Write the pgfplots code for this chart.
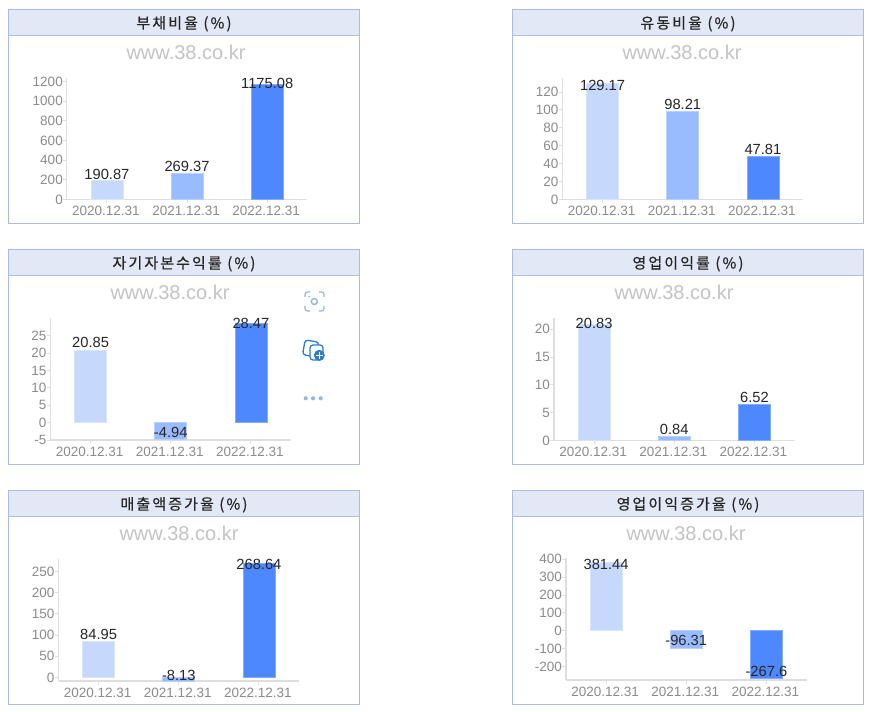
\documentclass[border=0pt]{standalone}
\usepackage{fontspec}
\usepackage{pgfplots}
\pgfplotsset{compat=1.18}
\setmainfont{Liberation Sans}
\newfontfamily\krfont[LetterSpace=14,FakeBold=0.6]{Noto Sans CJK KR}
\definecolor{c1}{HTML}{C6D9FC}
\definecolor{c2}{HTML}{99BBFF}
\definecolor{c3}{HTML}{4D88FF}
\definecolor{bord}{HTML}{A9BDE3}
\definecolor{head}{HTML}{E2E8F5}
\definecolor{axl}{HTML}{DEDEDE}
\definecolor{tickc}{HTML}{8C8C8C}
\definecolor{wm}{HTML}{C4C4C4}
\definecolor{ic1}{HTML}{8FB9E8}
\definecolor{ic2}{HTML}{2F7CCB}
\pgfplotsset{
  panel/.style={
    scale only axis, width=240.5pt, anchor=south west, clip=false,
    axis x line*=bottom, axis y line*=left,
    axis line style={axl,line width=1.1pt,-},
    xmin=-0.5, xmax=2.5, xtick={0,1,2},
    xticklabels={2020.12.31,2021.12.31,2022.12.31},
    tick style={axl,line width=0.9pt}, tick align=outside,
    major tick length=4pt,
    ticklabel style={font=\fontsize{13.5}{14}\selectfont,text=tickc},
    xticklabel style={yshift=0.5pt,xshift=-1pt}, yticklabel style={xshift=3.5pt},
  },
  b1/.style={ybar,bar shift=0pt,bar width=32pt,fill=c1,draw=c1!70!white,line width=0.6pt},
  b2/.style={ybar,bar shift=0pt,bar width=32pt,fill=c2,draw=c2!70!white,line width=0.6pt},
  b3/.style={ybar,bar shift=0pt,bar width=32pt,fill=c3,draw=c3!70!white,line width=0.6pt},
  lab/.style={only marks,mark=none,point meta=explicit symbolic,nodes near coords,
    nodes near coords align={center},
    nodes near coords style={font=\fontsize{14.7}{15}\selectfont,text=black!85,inner sep=0pt,anchor=center}},
}
\newcommand{\frm}[5]{%
  \fill[white] (#1pt,711pt-#2pt) rectangle (#1pt+351pt,711pt-#3pt);
  \fill[head] (#1pt,711pt-#2pt) rectangle (#1pt+351pt,711pt-#2pt-26pt);
  \draw[bord,line width=0.9pt] (#1pt,711pt-#2pt-26pt) -- (#1pt+351pt,711pt-#2pt-26pt);
  \draw[bord,line width=0.9pt] (#1pt,711pt-#2pt) rectangle (#1pt+351pt,711pt-#3pt);
  \node[font=\krfont\fontsize{15}{16}\selectfont,text=black!85,inner sep=0pt] at (#1pt+175.5pt,711pt-#2pt-14.3pt) {#4};
}
\begin{document}
\begin{tikzpicture}[x=1pt,y=1pt]
\path[use as bounding box] (0,0) rectangle (874pt,711pt);
\fill[white] (0,0) rectangle (874pt,711pt);
\frm{8.5}{9.5}{223}{부채비율 (\%)}{}
\frm{512.5}{9.5}{223}{유동비율 (\%)}{}
\frm{8.5}{249.5}{464.3}{자기자본수익률 (\%)}{}
\frm{512.5}{249.5}{464.3}{영업이익률 (\%)}{}
\frm{8.5}{490.5}{704.5}{매출액증가율 (\%)}{}
\frm{512.5}{490.5}{704.5}{영업이익증가율 (\%)}{}
\foreach \x/\y in {186/52,682/52,170/292,674/292,179/533,686/533}
  \node[font=\fontsize{20}{21}\selectfont,text=wm,inner sep=0pt] at (\x pt,711pt-\y pt) {www.38.co.kr};

% Panel 1
\begin{axis}[panel,at={(66.8pt,511.5pt)},height=121.5pt,ymin=0,ymax=1237,
  ytick={0,200,400,600,800,1000,1200},yticklabels={0,200,400,600,800,1000,1200}]
\addplot[b1] coordinates {(0,190.87)};
\addplot[b2] coordinates {(1,269.37)};
\addplot[b3] coordinates {(2,1175.08)};
\addplot[lab] coordinates {(0,255)[190.87] (1,335)[269.37] (2,1186)[1175.08]};
\end{axis}
% Panel 2
\begin{axis}[panel,at={(562.5pt,511.5pt)},height=121.5pt,ymin=0,ymax=135.6,
  ytick={0,20,40,60,80,100,120},yticklabels={0,20,40,60,80,100,120}]
\addplot[b1] coordinates {(0,129.17)};
\addplot[b2] coordinates {(1,98.21)};
\addplot[b3] coordinates {(2,47.81)};
\addplot[lab] coordinates {(0,127.8)[129.17] (1,106.6)[98.21] (2,56.4)[47.81]};
\end{axis}
% Panel 3
\begin{axis}[panel,at={(50.5pt,271pt)},height=121.7pt,ymin=-5,ymax=30,
  ytick={-5,0,5,10,15,20,25},yticklabels={-5,0,5,10,15,20,25}]
\addplot[b1] coordinates {(0,20.85)};
\addplot[b2] coordinates {(1,-4.94)};
\addplot[b3] coordinates {(2,28.47)};
\addplot[lab] coordinates {(0,23.1)[20.85] (1,-2.87)[-4.94] (2,28.56)[28.47]};
\end{axis}
% Panel 4
\begin{axis}[panel,at={(554pt,270.5pt)},height=122.5pt,ymin=0,ymax=22,
  ytick={0,5,10,15,20},yticklabels={0,5,10,15,20}]
\addplot[b1] coordinates {(0,20.83)};
\addplot[b2] coordinates {(1,0.84)};
\addplot[b3] coordinates {(2,6.52)};
\addplot[lab] coordinates {(0,21.08)[20.83] (1,2.06)[0.84] (2,7.8)[6.52]};
\end{axis}
% Panel 5
\begin{axis}[panel,at={(58.5pt,30pt)},height=122pt,ymin=-8.25,ymax=279.5,
  ytick={0,50,100,150,200,250},yticklabels={0,50,100,150,200,250}]
\addplot[b1] coordinates {(0,84.95)};
\addplot[b2] coordinates {(1,-8.13)};
\addplot[b3] coordinates {(2,268.64)};
\addplot[lab] coordinates {(0,102.6)[84.95] (1,5.9)[-8.13] (2,267.7)[268.64]};
\end{axis}
% Panel 6
\begin{axis}[panel,at={(566pt,31pt)},height=121.7pt,ymin=-276.2,ymax=405.6,
  ytick={-200,-100,0,100,200,300,400},yticklabels={-200,-100,0,100,200,300,400}]
\addplot[b1] coordinates {(0,381.44)};
\addplot[b2] coordinates {(1,-96.31)};
\addplot[b3] coordinates {(2,-267.6)};
\addplot[lab] coordinates {(0,372)[381.44] (1,-56)[-96.31] (2,-230)[-267.6]};
\end{axis}

% floating icons
\begin{scope}[shift={(0pt,711pt)},y=-1pt]
  \draw[ic1,line width=1.2pt,rounded corners=2.5pt]
    (305,297) -- (305,292) -- (310,292) (319,292) -- (324,292) -- (324,297)
    (324,306) -- (324,311) -- (319,311) (310,311) -- (305,311) -- (305,306);
  \draw[ic1,line width=1.4pt] (314.3,301.5) circle (3pt);
  \fill[ic1] (309,296.5) circle (0.8pt);
  \draw[ic2,line width=1.3pt,rounded corners=3pt,rotate around={-10:(311,347)}] (304,341) rectangle (318,356);
  \draw[ic2,fill=white,line width=1.3pt,rounded corners=3pt] (310,345) rectangle (323,360);
  \fill[ic2] (319.3,355.3) circle (5.5pt);
  \draw[white,line width=1.2pt] (316,355.3) -- (322.6,355.3) (319.3,352) -- (319.3,358.6);
  \fill[ic1] (305.7,398.3) circle (2.1pt) (313,398.3) circle (2.1pt) (320.7,398.3) circle (2.1pt);
\end{scope}
\end{tikzpicture}
\end{document}
